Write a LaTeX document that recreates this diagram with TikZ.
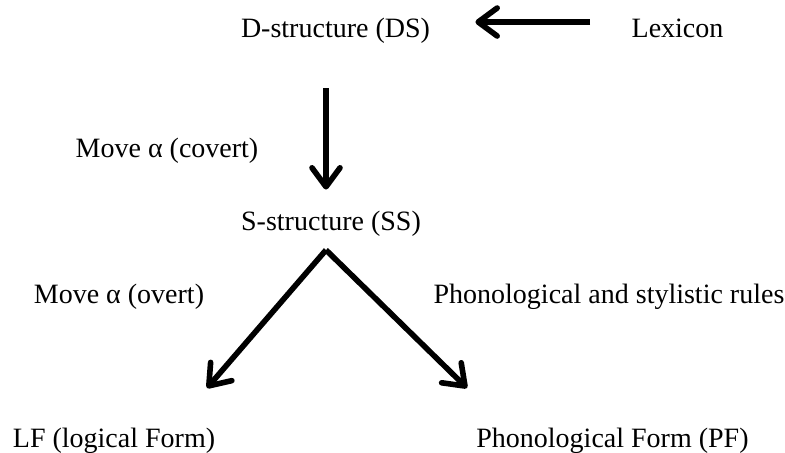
\documentclass[tikz,border=0pt]{standalone}
\usepackage{fontspec}
\setmainfont{Liberation Serif}
\usetikzlibrary{arrows.meta}
\tikzset{
  lbl/.style={inner sep=0pt, anchor=base, text height=9.5pt, text depth=2.5pt,
    font=\fontsize{14}{16}\selectfont},
  arr/.style={draw, line width=2.8pt, -{Straight Barb[length=9.5pt,width=14pt,round]}}
}
\begin{document}
\begin{tikzpicture}[x=0.5pt,y=-0.5pt]
        \useasboundingbox (0,0) rectangle (785,452);

        \node[lbl] (ds) at (335.5,37) {D-structure (DS)};
        \node[lbl] (lex) at (677.5,37) {Lexicon};
        \node[lbl] (covert) at (167,157) {Move α (covert)};
        \node[lbl] (ss) at (331,230) {S-structure (SS)};
        \node[lbl] (overt) at (119,303) {Move α (overt)};
        \node[lbl] (rules) at (609,303) {Phonological and stylistic rules};
        \node[lbl] (lf) at (114,447) {LF (logical Form)};
        \node[lbl] (pf) at (612.5,447) {Phonological Form (PF)};

        \coordinate (apex) at (326,250);
        \coordinate (lftip) at (207,388);
        \coordinate (pftip) at (467,388);

        \path[arr, shorten <=20.5pt, shorten >=22.5pt] ([yshift=4pt]lex.west) -- ([yshift=4pt]ds.east);
        \path[arr, shorten <=23pt, shorten >=10.5pt] (ds.south -| apex) -- (ss.north -| apex);
        \path[arr] (apex) -- (lftip);
        \path[arr] (apex) -- (pftip);
    \end{tikzpicture}
\end{document}
